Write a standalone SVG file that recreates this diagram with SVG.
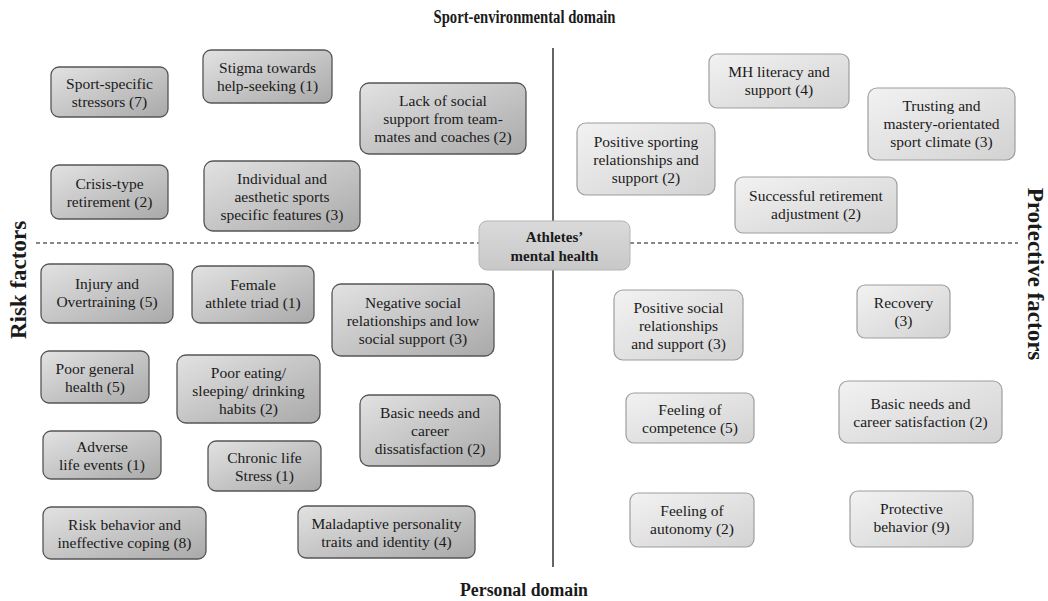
<svg xmlns="http://www.w3.org/2000/svg" width="1048" height="601" viewBox="0 0 1048 601">
<defs>
<linearGradient id="gr" x1="0" y1="0" x2="1" y2="1">
<stop offset="0" stop-color="#e2e2e2"/><stop offset="1" stop-color="#a9a9a9"/>
</linearGradient>
<linearGradient id="gp" x1="0" y1="0" x2="1" y2="1">
<stop offset="0" stop-color="#f2f2f2"/><stop offset="1" stop-color="#d2d2d2"/>
</linearGradient>
<linearGradient id="gc" x1="0" y1="0" x2="0" y2="1">
<stop offset="0" stop-color="#dadada"/><stop offset="1" stop-color="#c8c8c8"/>
</linearGradient>
</defs>
<style>
text{font-family:"Liberation Serif","Times New Roman",serif;fill:#1a1a1a;}
.t{font-size:15.5px;text-anchor:middle;}
.h{font-size:18px;font-weight:bold;text-anchor:middle;}
.v{font-size:23px;font-weight:bold;text-anchor:middle;}
.r rect{fill:url(#gr);stroke:#555;stroke-width:1.3;}
.p rect{fill:url(#gp);stroke:#9e9e9e;stroke-width:1.2;}
</style>
<rect width="1048" height="601" fill="#fff"/>
<text class="h" x="524.5" y="23" font-size="16.5" textLength="182" lengthAdjust="spacingAndGlyphs">Sport-environmental domain</text>
<text class="h" x="524" y="596" textLength="128" lengthAdjust="spacingAndGlyphs">Personal domain</text>
<text class="v" transform="translate(26,280) rotate(-90)">Risk factors</text>
<text class="v" transform="translate(1028,274) rotate(90)">Protective factors</text>
<g id="connectors" stroke="#111" fill="none">
<line x1="553" y1="48" x2="553" y2="567" stroke-width="1.3"/>
<line x1="36" y1="243" x2="479" y2="243" stroke-dasharray="4,3" stroke-width="1.2"/>
<line x1="630" y1="243" x2="1018" y2="243" stroke-dasharray="4,3" stroke-width="1.2"/>
</g>
<g id="center">
<rect x="479" y="221" width="151" height="49" rx="8" fill="url(#gc)" stroke="#b5b5b5"/>
<text x="554.5" y="242" font-size="15" font-weight="bold" text-anchor="middle">Athletes’</text>
<text x="554.5" y="261" font-size="15" font-weight="bold" text-anchor="middle">mental health</text>
</g>
<g id="n1" class="r"><rect x="51" y="67" width="117" height="50" rx="8"/><text class="t" x="109.5" y="89">Sport-specific</text><text class="t" x="109.5" y="107">stressors (7)</text></g>
<g id="n2" class="r"><rect x="203" y="50" width="129" height="53" rx="8"/><text class="t" x="267.5" y="73">Stigma towards</text><text class="t" x="267.5" y="91">help-seeking (1)</text></g>
<g id="n3" class="r"><rect x="360" y="83" width="166" height="71" rx="9"/><text class="t" x="443" y="106">Lack of social</text><text class="t" x="443" y="124">support from team-</text><text class="t" x="443" y="142">mates and coaches (2)</text></g>
<g id="n4" class="r"><rect x="51" y="165" width="117" height="54" rx="8"/><text class="t" x="109.5" y="189">Crisis-type</text><text class="t" x="109.5" y="207">retirement (2)</text></g>
<g id="n5" class="r"><rect x="204" y="161" width="156" height="70" rx="9"/><text class="t" x="282" y="184">Individual and</text><text class="t" x="282" y="202">aesthetic sports</text><text class="t" x="282" y="220">specific features (3)</text></g>
<g id="n6" class="p"><rect x="709" y="54" width="140" height="54" rx="8"/><text class="t" x="779" y="77">MH literacy and</text><text class="t" x="779" y="95">support (4)</text></g>
<g id="n7" class="p"><rect x="868" y="88" width="147" height="72" rx="9"/><text class="t" x="941.5" y="111">Trusting and</text><text class="t" x="941.5" y="129">mastery-orientated</text><text class="t" x="941.5" y="147">sport climate (3)</text></g>
<g id="n8" class="p"><rect x="577" y="123" width="138" height="72" rx="9"/><text class="t" x="646" y="147">Positive sporting</text><text class="t" x="646" y="165">relationships and</text><text class="t" x="646" y="183">support (2)</text></g>
<g id="n9" class="p"><rect x="735" y="177" width="162" height="56" rx="8"/><text class="t" x="816" y="201">Successful retirement</text><text class="t" x="816" y="219">adjustment (2)</text></g>
<g id="n10" class="r"><rect x="41" y="264" width="132" height="59" rx="8"/><text class="t" x="107" y="289">Injury and</text><text class="t" x="107" y="307">Overtraining (5)</text></g>
<g id="n11" class="r"><rect x="192" y="266" width="122" height="57" rx="8"/><text class="t" x="253" y="290">Female</text><text class="t" x="253" y="308">athlete triad (1)</text></g>
<g id="n12" class="r"><rect x="332" y="284" width="162" height="72" rx="9"/><text class="t" x="413" y="308">Negative social</text><text class="t" x="413" y="326">relationships and low</text><text class="t" x="413" y="344">social support (3)</text></g>
<g id="n13" class="r"><rect x="41" y="351" width="108" height="52" rx="8"/><text class="t" x="95" y="374">Poor general</text><text class="t" x="95" y="392">health (5)</text></g>
<g id="n14" class="r"><rect x="177" y="355" width="143" height="68" rx="9"/><text class="t" x="248.5" y="378">Poor eating/</text><text class="t" x="248.5" y="396">sleeping/ drinking</text><text class="t" x="248.5" y="414">habits (2)</text></g>
<g id="n15" class="r"><rect x="360" y="395" width="140" height="71" rx="9"/><text class="t" x="430" y="418">Basic needs and</text><text class="t" x="430" y="436">career</text><text class="t" x="430" y="454">dissatisfaction (2)</text></g>
<g id="n16" class="r"><rect x="43" y="431" width="118" height="48" rx="8"/><text class="t" x="102" y="452">Adverse</text><text class="t" x="102" y="470">life events (1)</text></g>
<g id="n17" class="r"><rect x="208" y="441" width="113" height="50" rx="8"/><text class="t" x="264.5" y="463">Chronic life</text><text class="t" x="264.5" y="481">Stress (1)</text></g>
<g id="n18" class="r"><rect x="43" y="507" width="163" height="52" rx="8"/><text class="t" x="124.5" y="530">Risk behavior and</text><text class="t" x="124.5" y="548">ineffective coping (8)</text></g>
<g id="n19" class="r"><rect x="298" y="506" width="177" height="52" rx="8"/><text class="t" x="386.5" y="529">Maladaptive personality</text><text class="t" x="386.5" y="547">traits and identity (4)</text></g>
<g id="n20" class="p"><rect x="614" y="290" width="129" height="70" rx="9"/><text class="t" x="678.5" y="313">Positive social</text><text class="t" x="678.5" y="331">relationships</text><text class="t" x="678.5" y="349">and support (3)</text></g>
<g id="n21" class="p"><rect x="857" y="285" width="93" height="53" rx="8"/><text class="t" x="903.5" y="308">Recovery</text><text class="t" x="903.5" y="326">(3)</text></g>
<g id="n22" class="p"><rect x="626" y="393" width="128" height="50" rx="8"/><text class="t" x="690" y="415">Feeling of</text><text class="t" x="690" y="433">competence (5)</text></g>
<g id="n23" class="p"><rect x="839" y="381" width="163" height="62" rx="9"/><text class="t" x="920.5" y="409">Basic needs and</text><text class="t" x="920.5" y="427">career satisfaction (2)</text></g>
<g id="n24" class="p"><rect x="630" y="493" width="124" height="54" rx="8"/><text class="t" x="692" y="516">Feeling of</text><text class="t" x="692" y="534">autonomy (2)</text></g>
<g id="n25" class="p"><rect x="850" y="491" width="123" height="56" rx="8"/><text class="t" x="911.5" y="514">Protective</text><text class="t" x="911.5" y="532">behavior (9)</text></g>
</svg>
